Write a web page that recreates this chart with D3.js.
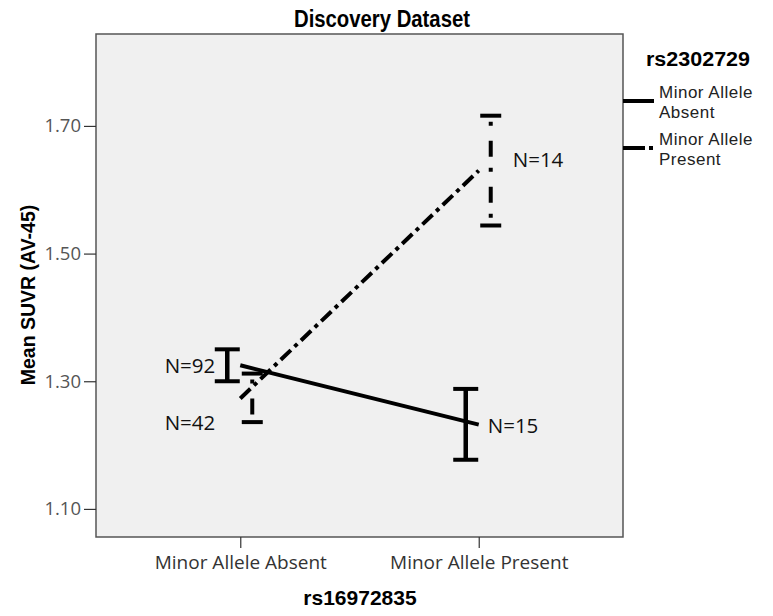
<!DOCTYPE html>
<html>
<head>
<meta charset="utf-8">
<script src="https://cdn.jsdelivr.net/npm/d3@7"></script>
<style>
	body { margin: 0; background: #fff; }
	svg text { font-family: "Liberation Sans", Arial, sans-serif; }
	svg text.lbl { font-family: "Open Sans", "Noto Sans", sans-serif; }
</style>
</head>
<body>
<div id="box"></div>
<script>
// categories on x (rs16972835)
const categories = ['Minor Allele Absent', 'Minor Allele Present'];
// series (rs2302729)
const seriesNames = ['Minor Allele Absent', 'Minor Allele Present'];
const means = [
	[1.325, 1.232],
	[1.273, 1.630],
];
const lows = [
	[1.300, 1.177],
	[1.236, 1.544],
];
const highs = [
	[1.350, 1.288],
	[1.312, 1.716],
];
const counts = [
	['N=92', 'N=15'],
	['N=42', 'N=14'],
];
const yTicks = [1.10, 1.30, 1.50, 1.70];

const width = 773;
const height = 616;

const marginTop = 34;
const marginRight = 150;
const marginBottom = 79;
const marginLeft = 96;

const x = d3.scalePoint(categories, [marginLeft, width - marginRight]).padding(0.605);
const y = d3.scaleLinear([1.056, 1.844], [height - marginBottom, marginTop]);

const dashes = [null, '14,5,4,5'];
const barOffset = [-13, 12];

const svg = d3.select('#box').append('svg')
	.attr('width', width)
	.attr('height', height)
	.attr('viewBox', [0, 0, width, height]);

// plot area
svg.append('rect')
	.attr('x', marginLeft)
	.attr('y', marginTop)
	.attr('width', width - marginLeft - marginRight)
	.attr('height', height - marginTop - marginBottom)
	.attr('fill', '#f0f0f0')
	.attr('stroke', '#555')
	.attr('stroke-width', 1.5);

svg.append('text')
	.attr('x', 382)
	.attr('y', 27)
	.attr('text-anchor', 'middle')
	.attr('font-weight', 'bold')
	.attr('font-size', 23)
	.attr('textLength', 176)
	.attr('lengthAdjust', 'spacingAndGlyphs')
	.text('Discovery Dataset');

// axes
svg.append('g')
	.attr('transform', `translate(0,${height - marginBottom})`)
	.call(d3.axisBottom(x).tickSize(11).tickPadding(8))
	.call(g => g.select('.domain').remove())
	.call(g => g.selectAll('.tick line').attr('stroke', '#333').attr('stroke-width', 1.2))
	.call(g => g.selectAll('.tick text')
		.attr('class', 'lbl')
		.attr('font-size', 19)
		.attr('fill', '#333'));

svg.append('g')
	.attr('transform', `translate(${marginLeft},0)`)
	.call(d3.axisLeft(y).tickValues(yTicks).tickFormat(d3.format('.2f')).tickSize(12).tickPadding(3))
	.call(g => g.select('.domain').remove())
	.call(g => g.selectAll('.tick line').attr('stroke', '#333').attr('stroke-width', 1.2))
	.call(g => g.selectAll('.tick text')
		.attr('class', 'lbl')
		.attr('font-size', 18.5)
		.attr('fill', '#555'));

svg.append('text')
	.attr('transform', `translate(35,295) rotate(-90)`)
	.attr('text-anchor', 'middle')
	.attr('font-weight', 'bold')
	.attr('font-size', 19.5)
	.text('Mean SUVR (AV-45)');

svg.append('text')
	.attr('x', 360)
	.attr('y', 605)
	.attr('text-anchor', 'middle')
	.attr('font-weight', 'bold')
	.attr('font-size', 21)
	.text('rs16972835');

// lines
const line = d3.line()
	.x((_, i) => x(categories[i]))
	.y(d => y(d));

means.forEach((m, s) => {
	svg.append('path')
		.attr('fill', 'none')
		.attr('stroke', '#000')
		.attr('stroke-width', 4)
		.attr('stroke-dasharray', dashes[s])
		.attr('d', line(m));
});

// error bars
means.forEach((m, s) => {
	m.forEach((_, i) => {
		const cx = x(categories[i]) + barOffset[s];
		const capW = s ? 21 : 25;
		const g = svg.append('g');
		g.append('line')
			.attr('x1', cx).attr('x2', cx)
			.attr('y1', y(highs[s][i])).attr('y2', y(lows[s][i]))
			.attr('stroke', '#000')
			.attr('stroke-width', s ? 4 : 4.5)
			.attr('stroke-dasharray', s ? '0,6,4,15,16,5' : null);
		[lows[s][i], highs[s][i]].forEach(v => {
			g.append('line')
				.attr('x1', cx - capW / 2).attr('x2', cx + capW / 2)
				.attr('y1', y(v)).attr('y2', y(v))
				.attr('stroke', '#000')
				.attr('stroke-width', 4);
		});
	});
});

// N labels
const nPos = [
	[{ dx: -25, anchor: 'end', v: means[0][0], dy: 0 }, { dx: 9, anchor: 'start', v: means[0][1], dy: 1 }],
	[{ dx: -25, anchor: 'end', v: lows[1][0], dy: 1 }, { dx: 34, anchor: 'start', v: means[1][1], dy: -11 }],
];
counts.forEach((c, s) => {
	c.forEach((t, i) => {
		const p = nPos[s][i];
		svg.append('text')
			.attr('class', 'lbl')
			.attr('x', x(categories[i]) + p.dx)
			.attr('y', y(p.v) + p.dy)
			.attr('dy', '0.36em')
			.attr('text-anchor', p.anchor)
			.attr('font-size', 20.5)
			.attr('fill', '#111')
			.text(t);
	});
});

// legend
const legX = width - marginRight;
svg.append('text')
	.attr('x', 646)
	.attr('y', 66)
	.attr('font-weight', 'bold')
	.attr('font-size', 20)
	.attr('textLength', 104)
	.attr('lengthAdjust', 'spacingAndGlyphs')
	.text('rs2302729');

const legY = [101, 148];
seriesNames.forEach((name, s) => {
	svg.append('line')
		.attr('x1', legX).attr('x2', legX + 31)
		.attr('y1', legY[s]).attr('y2', legY[s])
		.attr('stroke', '#000')
		.attr('stroke-width', 4)
		.attr('stroke-dasharray', s ? '22,4,4,4' : null);
	const words = name.split(' ');
	[words.slice(0, 2).join(' '), words[2]].forEach((w, k) => {
		svg.append('text')
			.attr('x', legX + 36)
			.attr('y', legY[s] - 3 + k * 19.5)
			.attr('font-size', 17)
			.attr('letter-spacing', 0.5)
			.attr('fill', '#222')
			.text(w);
	});
});
</script>
</body>
</html>
